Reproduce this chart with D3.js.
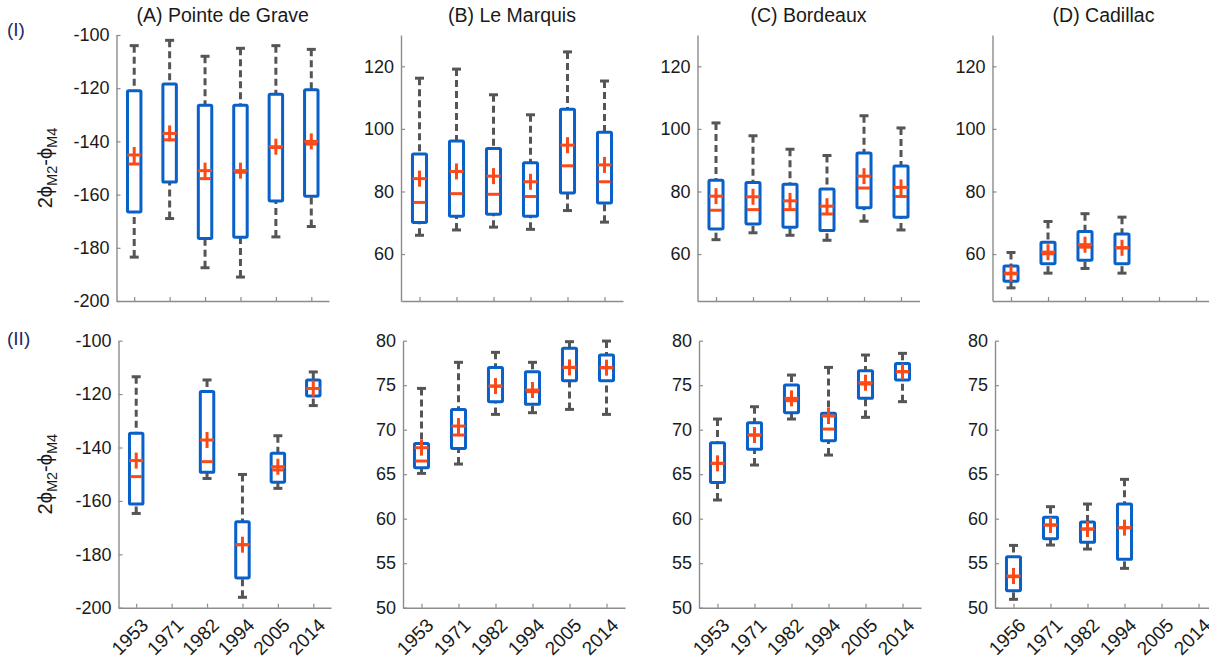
<!DOCTYPE html>
<html>
<head>
<meta charset="utf-8">
<script src="https://cdn.jsdelivr.net/npm/d3@7"></script>
<style>
  html, body { margin: 0; padding: 0; background: #fff; }
  svg { display: block; font-family: "Liberation Sans", Arial, Helvetica, sans-serif; }
</style>
</head>
<body>
<svg id="chart" width="1209" height="663"></svg>
<script>
// ---------------- DATA ----------------
const stations = ["(A) Pointe de Grave", "(B) Le Marquis", "(C) Bordeaux", "(D) Cadillac"];
const rowLabels = ["(I)", "(II)"];
const yearsMain = ["1953", "1971", "1982", "1994", "2005", "2014"];
const yearsCadillac = ["1956", "1971", "1982", "1994", "2005", "2014"];

const yTicksPhaseNeg = [-200, -180, -160, -140, -120, -100];
const yTicksRowI = [60, 80, 100, 120];
const yTicksRowII = [50, 55, 60, 65, 70, 75, 80];

// Row (I): one array per station (A, B, C, D), six years each
const rowI_whiskerHigh = [
  [-104, -102, -108, -105, -104, -105.4],
  [116.2, 119.1, 110.9, 104.5, 124.6, 115.3],
  [101.9, 97.8, 93.5, 91.5, 104.2, 100.3],
  [60.5, 70.4, 72.9, 71.8, null, null]
];
const rowI_q3 = [
  [-121, -118.4, -126.4, -126.4, -122.3, -120.6],
  [92, 96.1, 93.7, 89.2, 106.3, 98.9],
  [83.6, 82.9, 82.3, 80.8, 92.3, 88.1],
  [56.2, 63.8, 67.2, 66.4, null, null]
];
const rowI_median = [
  [-148.5, -139.4, -154, -151.6, -142.3, -141],
  [76.5, 79.3, 79.1, 78.4, 88.2, 83.1],
  [74, 74.2, 74.2, 72.8, 81.1, 78.4],
  [53.9, 60.1, 62.2, 62, null, null]
];
const rowI_mean = [
  [-145.1, -137, -151, -151, -142, -140],
  [84.1, 86.4, 84.9, 83.1, 94.8, 88.5],
  [78.5, 78.3, 77, 75.3, 84.9, 81.3],
  [53.7, 60.6, 63, 62, null, null]
];
const rowI_q1 = [
  [-166.5, -155.3, -176.5, -176, -162.4, -160.6],
  [70.1, 72.1, 72.7, 72.1, 79.5, 76.3],
  [68, 69.6, 68.6, 67.5, 74.8, 71.8],
  [51.3, 56.9, 58, 56.9, null, null]
];
const rowI_whiskerLow = [
  [-183.5, -169, -187.5, -191, -175.9, -172],
  [66, 67.7, 68.6, 67.9, 73.9, 70.2],
  [64.6, 66.8, 66, 64.4, 70.5, 67.7],
  [49.2, 53.9, 55.4, 53.9, null, null]
];

// Row (II)
const rowII_whiskerHigh = [
  [-113.5, null, -114.7, -150.1, -135.6, -111.7],
  [74.64, 77.57, 78.69, 77.57, 79.89, 79.96],
  [71.2, 72.58, 76.14, 77.0, 78.39, 78.58],
  [57.0, 61.35, 61.65, 64.42, null, null]
];
const rowII_q3 = [
  [-134.7, null, -119, -167.8, -142.2, -114.7],
  [68.46, 72.28, 77.0, 76.5, 79.14, 78.39],
  [68.54, 70.79, 75.02, 71.84, 76.63, 77.45],
  [55.73, 60.15, 59.63, 61.65, null, null]
];
const rowII_median = [
  [-150.9, null, -145.3, -176.4, -148.4, -117.9],
  [66.48, 69.4, 74.9, 74.27, 77.0, 76.97],
  [66.22, 69.4, 73.26, 70.07, 75.13, 76.52],
  [53.48, 59.29, 58.84, 58.99, null, null]
];
const rowII_mean = [
  [-144.9, null, -137.2, -176.4, -147.2, -117.9],
  [67.98, 70.41, 74.9, 74.46, 77.0, 76.97],
  [66.22, 69.4, 73.52, 71.54, 75.28, 76.52],
  [53.56, 59.29, 58.84, 58.99, null, null]
];
const rowII_q1 = [
  [-161.2, null, -149.3, -188.9, -153, -120.7],
  [65.73, 67.9, 73.15, 72.85, 75.5, 75.5],
  [64.08, 67.79, 71.91, 68.76, 73.52, 75.58],
  [51.91, 57.75, 57.34, 55.43, null, null]
];
const rowII_whiskerLow = [
  [-164.7, null, -151.6, -196.1, -155.3, -124.3],
  [65.09, 66.14, 71.72, 71.91, 72.28, 71.72],
  [62.1, 66.03, 71.2, 67.15, 71.39, 73.15],
  [50.94, 57.04, 56.59, 54.42, null, null]
];

// ---------------- LAYOUT / STYLE ----------------
const svg = d3.select("#chart");
const FONT = 18;
const C_BOX = "#0860c8";
const C_RED = "#fb4a18";
const C_WHISK = "#555555";
const C_AXIS = "#8c8c8c";
const C_TEXT = "#1a1a1a";

const rows = [
  { top: 35, bottom: 301, lefts: [116.5, 401, 697.5, 992.5],
    stats: { wh: rowI_whiskerHigh, q3: rowI_q3, med: rowI_median, mean: rowI_mean, q1: rowI_q1, wl: rowI_whiskerLow },
    domains: [[-200, -100], [45, 130], [45, 130], [45, 130]],
    ticks: [yTicksPhaseNeg, yTicksRowI, yTicksRowI, yTicksRowI], labelsX: false, labelY: 35.5 },
  { top: 340.7, bottom: 607.7, lefts: [118.5, 403, 699, 995],
    stats: { wh: rowII_whiskerHigh, q3: rowII_q3, med: rowII_median, mean: rowII_mean, q1: rowII_q1, wl: rowII_whiskerLow },
    domains: [[-200, -100], [50, 80], [50, 80], [50, 80]],
    ticks: [yTicksPhaseNeg, yTicksRowII, yTicksRowII, yTicksRowII], labelsX: true, labelY: 345 }
];
const widths = [212.5, 222, 222, 222];

rows.forEach((row, r) => {
  // row label
  svg.append("text").attr("x", 7).attr("y", row.labelY)
    .attr("font-size", 19).attr("fill", "#1c2a66").text(rowLabels[r]);

  for (let c = 0; c < 4; c++) {
    const cats = c === 3 ? yearsCadillac : yearsMain;
    const left = row.lefts[c], right = left + widths[c];
    const x = d3.scalePoint().domain(cats).range([left, right]).padding(0.5);
    const y = d3.scaleLinear().domain(row.domains[c]).range([row.bottom, row.top]);
    const step = x.step();
    const g = svg.append("g");

    // axes
    const ax = g.append("g").attr("transform", `translate(0,${row.bottom})`)
      .call(d3.axisBottom(x).tickSizeInner(-4).tickSizeOuter(0).tickPadding(6)
        .tickFormat(row.labelsX ? (d => d) : (() => "")));
    const ay = g.append("g").attr("transform", `translate(${left},0)`)
      .call(d3.axisLeft(y).tickValues(row.ticks[c]).tickSizeInner(-4).tickSizeOuter(0)
        .tickPadding(7).tickFormat(d => String(d)));
    [ax, ay].forEach(a => {
      a.select(".domain").attr("stroke", C_AXIS).attr("stroke-width", 1.4);
      a.selectAll(".tick line").attr("stroke", C_AXIS).attr("stroke-width", 1.2);
      a.selectAll(".tick text").attr("fill", C_TEXT).attr("font-size", FONT)
        .attr("font-family", '"Liberation Sans", Arial, sans-serif');
    });
    if (row.labelsX) {
      ax.selectAll(".tick text")
        .attr("font-size", 19)
        .attr("x", 0).attr("y", 0).attr("dy", "0.35em")
        .attr("text-anchor", "end")
        .attr("transform", "translate(8,14) rotate(-45)");
    }

    // title
    if (r === 0) {
      svg.append("text").attr("x", (left + right) / 2).attr("y", 22)
        .attr("text-anchor", "middle").attr("font-size", 19.5).attr("fill", C_TEXT)
        .text(stations[c]);
    }

    // y label
    if (c === 0) {
      const cy = (row.top + row.bottom) / 2;
      const t = svg.append("text").attr("transform", `translate(52,${cy}) rotate(-90)`)
        .attr("text-anchor", "middle").attr("font-size", 20).attr("fill", C_TEXT);
      t.append("tspan").text("2\u03D5");
      t.append("tspan").attr("font-size", 14.5).attr("dy", 5).text("M2");
      t.append("tspan").attr("dy", -5).text("-\u03D5");
      t.append("tspan").attr("font-size", 14.5).attr("dy", 5).text("M4");
    }

    // boxes
    const s = row.stats;
    const bw = step * 0.38, cw = 9, ph = 7, pv = 8;
    cats.forEach((cat, i) => {
      const wh = s.wh[c][i];
      if (wh == null) return;
      const q3 = s.q3[c][i], md = s.med[c][i], mn = s.mean[c][i], q1 = s.q1[c][i], wl = s.wl[c][i];
      const cx = x(cat);
      const b = g.append("g");
      // whiskers
      b.append("line").attr("x1", cx).attr("x2", cx).attr("y1", y(wh)).attr("y2", y(q3))
        .attr("stroke", C_WHISK).attr("stroke-width", 3).attr("stroke-dasharray", "7,4");
      b.append("line").attr("x1", cx).attr("x2", cx).attr("y1", y(wl)).attr("y2", y(q1))
        .attr("stroke", C_WHISK).attr("stroke-width", 3).attr("stroke-dasharray", "7,4");
      // caps
      [wh, wl].forEach(v => {
        b.append("line").attr("x1", cx - cw / 2).attr("x2", cx + cw / 2).attr("y1", y(v)).attr("y2", y(v))
          .attr("stroke", C_WHISK).attr("stroke-width", 3);
      });
      // box
      b.append("rect").attr("x", cx - bw / 2).attr("y", y(q3)).attr("width", bw)
        .attr("height", y(q1) - y(q3)).attr("fill", "#fff")
        .attr("stroke", C_BOX).attr("stroke-width", 3).attr("rx", 1.2);
      // median
      b.append("line").attr("x1", cx - bw / 2 + 1).attr("x2", cx + bw / 2 - 1).attr("y1", y(md)).attr("y2", y(md))
        .attr("stroke", C_RED).attr("stroke-width", 3);
      // mean plus
      b.append("line").attr("x1", cx - ph).attr("x2", cx + ph).attr("y1", y(mn)).attr("y2", y(mn))
        .attr("stroke", C_RED).attr("stroke-width", 3);
      b.append("line").attr("x1", cx).attr("x2", cx).attr("y1", y(mn) - pv).attr("y2", y(mn) + pv)
        .attr("stroke", C_RED).attr("stroke-width", 3);
    });
  }
});
</script>
</body>
</html>
